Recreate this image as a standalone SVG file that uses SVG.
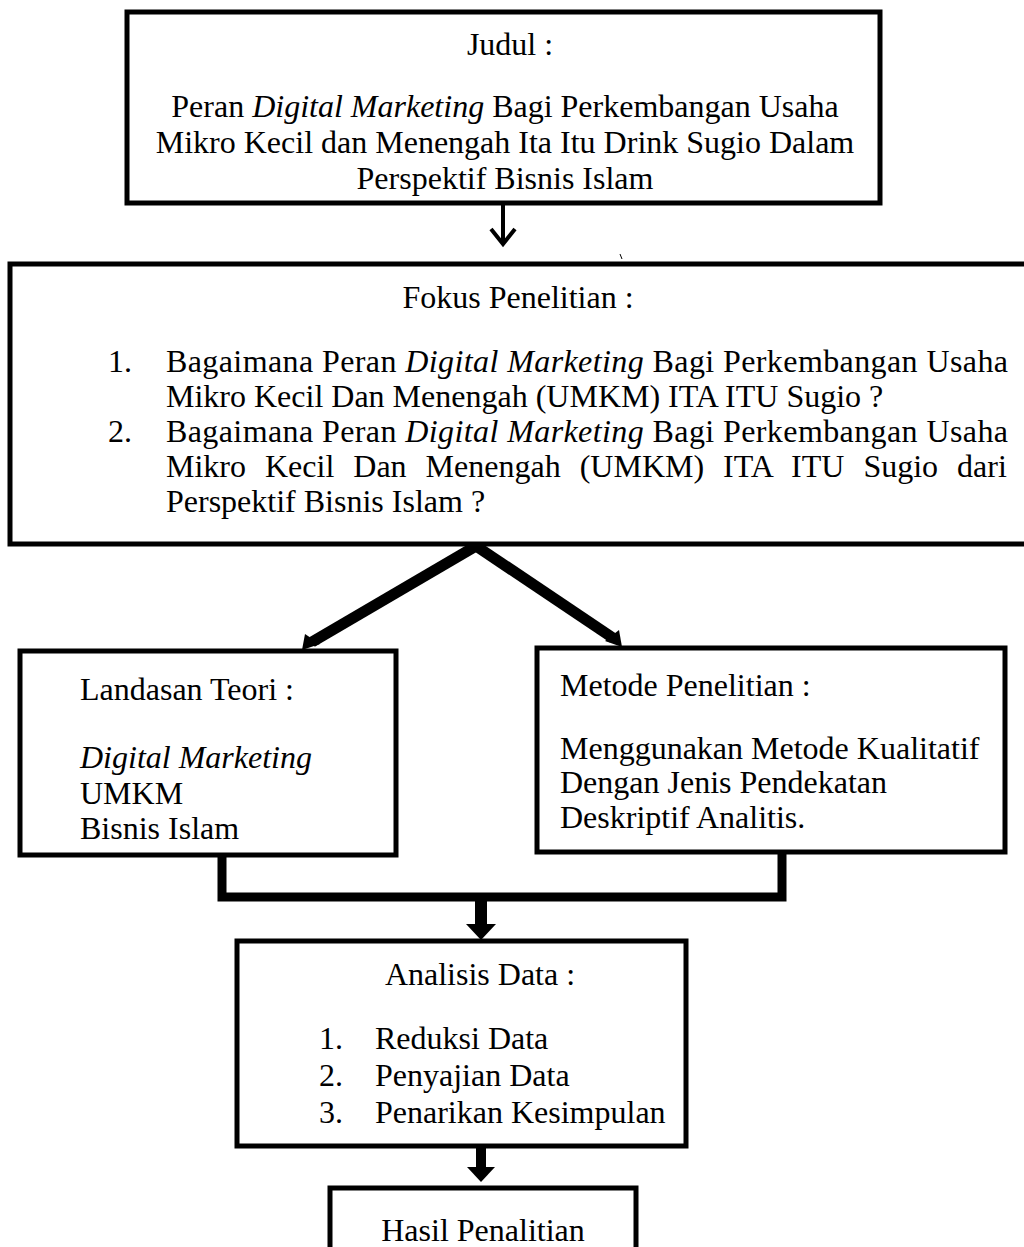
<svg xmlns="http://www.w3.org/2000/svg" width="1024" height="1247" viewBox="0 0 1024 1247">
<defs>
<style>
.box{fill:#fff;stroke:#000;stroke-width:5}
text{font-family:"Liberation Serif","Times New Roman",serif;font-size:32px;fill:#000}
.c{text-anchor:middle}
.i{font-style:italic}
.conn{fill:none;stroke:#000}
</style>
</defs>
<rect width="1024" height="1247" fill="#fff"/>
<g id="connectors">
<line class="conn" x1="503" y1="205" x2="503" y2="242" stroke-width="4"/>
<polyline class="conn" points="491,229 503,244 515,229" stroke-width="4"/>
<line class="conn" x1="620" y1="254" x2="622" y2="259" stroke-width="1"/>
<line class="conn" x1="476" y1="546" x2="312" y2="642" stroke-width="11"/>
<polygon points="302,650 305,634 320,644" fill="#000"/>
<line class="conn" x1="476" y1="546" x2="613" y2="638" stroke-width="11"/>
<polygon points="622,647 605,641 619,630" fill="#000"/>
<polyline class="conn" points="222,855 222,897 782,897 782,853" stroke-width="9"/>
<line class="conn" x1="481" y1="897" x2="481" y2="926" stroke-width="12"/>
<polygon points="466,924 496,924 481,940" fill="#000"/>
<line class="conn" x1="481" y1="1146" x2="481" y2="1170" stroke-width="10"/>
<polygon points="467,1167 495,1167 481,1182" fill="#000"/>
</g>
<g id="judul">
<rect class="box" x="127" y="12" width="753" height="191"/>
<text class="c" x="510" y="55">Judul :</text>
<text class="c" x="505" y="117">Peran <tspan class="i">Digital Marketing</tspan> Bagi Perkembangan Usaha</text>
<text class="c" x="505" y="153">Mikro Kecil dan Menengah Ita Itu Drink Sugio Dalam</text>
<text class="c" x="505" y="189">Perspektif Bisnis Islam</text>
</g>
<g id="fokus">
<rect class="box" x="10" y="264" width="1030" height="280"/>
<text class="c" x="518" y="308">Fokus Penelitian :</text>
<text x="108" y="372">1.</text>
<text x="166" y="372" textLength="842" lengthAdjust="spacing">Bagaimana Peran <tspan class="i">Digital Marketing</tspan> Bagi Perkembangan Usaha</text>
<text x="166" y="407">Mikro Kecil Dan Menengah (UMKM) ITA ITU Sugio ?</text>
<text x="108" y="442">2.</text>
<text x="166" y="442" textLength="842" lengthAdjust="spacing">Bagaimana Peran <tspan class="i">Digital Marketing</tspan> Bagi Perkembangan Usaha</text>
<text x="166" y="477" word-spacing="11">Mikro Kecil Dan Menengah (UMKM) ITA ITU Sugio dari</text>
<text x="166" y="512">Perspektif Bisnis Islam ?</text>
</g>
<g id="landasan">
<rect class="box" x="20" y="651" width="376" height="204"/>
<text x="80" y="700">Landasan Teori :</text>
<text class="i" x="80" y="768">Digital Marketing</text>
<text x="80" y="804">UMKM</text>
<text x="80" y="839">Bisnis Islam</text>
</g>
<g id="metode">
<rect class="box" x="537" y="648" width="468" height="204"/>
<text x="560" y="696">Metode Penelitian :</text>
<text x="560" y="759">Menggunakan Metode Kualitatif</text>
<text x="560" y="793">Dengan Jenis Pendekatan</text>
<text x="560" y="828">Deskriptif Analitis.</text>
</g>
<g id="analisis">
<rect class="box" x="237" y="941" width="449" height="205"/>
<text class="c" x="480" y="985">Analisis Data :</text>
<text x="319" y="1049">1.</text>
<text x="375" y="1049">Reduksi Data</text>
<text x="319" y="1086">2.</text>
<text x="375" y="1086">Penyajian Data</text>
<text x="319" y="1123">3.</text>
<text x="375" y="1123">Penarikan Kesimpulan</text>
</g>
<g id="hasil">
<rect class="box" x="330" y="1188" width="306" height="80"/>
<text class="c" x="483" y="1241">Hasil Penalitian</text>
</g>
</svg>
